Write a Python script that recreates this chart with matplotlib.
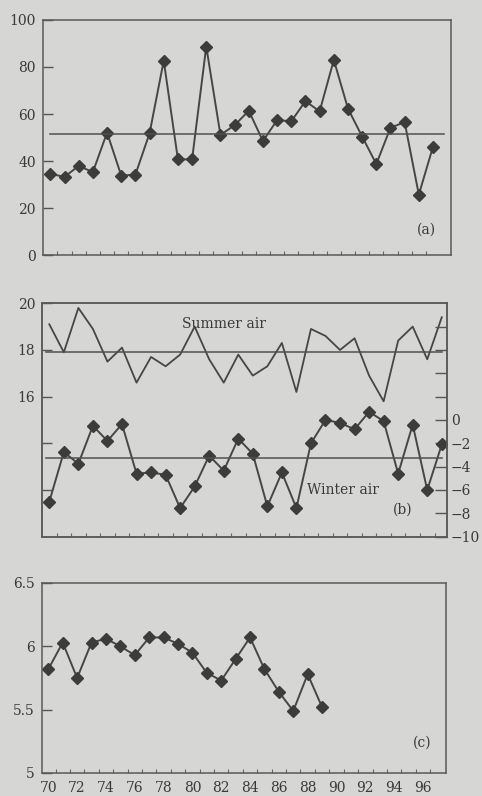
import numpy as np
import matplotlib
matplotlib.use("Agg")
import matplotlib.pyplot as plt
from matplotlib.ticker import FixedLocator

# years 1970-1997
years = np.arange(70, 98)

# panel (a)
series_a = [34.5, 33.3, 37.9, 35.3, 52.1, 33.8, 34.2, 51.8, 82.7, 40.7,
            40.7, 88.7, 51.1, 55.2, 61.4, 48.5, 57.4, 56.9, 65.5, 61.1,
            83.0, 62.3, 50.4, 38.7, 54.2, 56.5, 25.7, 46.1]

# panel (b): summer air (left axis), winter air (right axis)
summer_air = [19.1, 17.9, 19.8, 18.9, 17.5, 18.1, 16.6, 17.7, 17.3, 17.8,
              19.0, 17.6, 16.6, 17.8, 16.9, 17.3, 18.3, 16.2, 18.9, 18.6,
              18.0, 18.5, 16.9, 15.8, 18.4, 19.0, 17.6, 19.4]
winter_air = [-7.0, -2.75, -3.75, -0.5, -1.8, -0.35, -4.6, -4.5, -4.7, -7.55,
              -5.7, -3.05, -4.35, -1.6, -2.9, -7.4, -4.5, -7.55, -2.0, 0.0,
              -0.25, -0.8, 0.7, -0.1, -4.6, -0.4, -6.0, -2.1]

# panel (c): 1970-1989 only
years_c = np.arange(70, 90)
series_c = [5.82, 6.03, 5.75, 6.03, 6.06, 6.0, 5.93, 6.07, 6.07, 6.02,
            5.95, 5.79, 5.73, 5.90, 6.07, 5.82, 5.64, 5.49, 5.78, 5.52]

xlabels = [str(y) for y in range(70, 97, 2)]

BG = "#d6d6d4"
INK = "#464646"
TXT = "#3a3a3a"

plt.rcParams["font.family"] = ["DejaVu Serif"]
plt.rcParams["font.size"] = 10

fig = plt.figure(figsize=(4.82, 7.96), dpi=100, facecolor=BG)


def style_axes(ax, xlim):
    ax.set_facecolor(BG)
    for sp in ax.spines.values():
        sp.set_color("#5a5a5a")
        sp.set_linewidth(1.1)
    ax.set_xlim(*xlim)
    # small ticks between years at the bottom
    ax.xaxis.set_minor_locator(FixedLocator(np.arange(70.5, 97, 1.0)))
    ax.tick_params(axis="x", which="minor", direction="in", length=3,
                   width=0.8, color="#666666", top=False)
    ax.tick_params(axis="y", direction="in", length=7, width=1.0,
                   color="#555555", labelcolor=TXT, pad=5)


# ---- (a)
ax1 = fig.add_axes([0.0892, 0.6796, 0.8465, 0.2953])
style_axes(ax1, (69.48, 98.27))
ax1.plot(years, series_a, color=INK, lw=1.4, marker="D", ms=6,
         mfc="#3c3c3c", mec="#3c3c3c")
ax1.plot([years[0], years[-1] + 0.8], [np.mean(series_a)] * 2,
         color="#505050", lw=1.1)
ax1.set_ylim(0, 100)
ax1.set_yticks([0, 20, 40, 60, 80, 100])
ax1.set_xticks([])
ax1.text(0.94, 0.11, "(a)", transform=ax1.transAxes, color=TXT,
         ha="center", va="center")

# ---- (b)
ax2 = fig.add_axes([0.0878, 0.3258, 0.839, 0.2932])
style_axes(ax2, (69.52, 97.34))
ax2.plot(years, summer_air, color=INK, lw=1.3)
ax2.plot([years[0] - 0.2, years[-1]], [np.mean(summer_air)] * 2,
         color="#505050", lw=1.1)
ax2.set_ylim(10, 20)
ax2.yaxis.set_major_locator(FixedLocator([12, 14, 16, 18, 20]))
ax2.set_yticklabels(["", "", "16", "18", "20"])
ax2.set_xticks([])
ax2.text(0.45, 0.91, "Summer air", transform=ax2.transAxes, color=TXT,
         ha="center", va="center")

ax3 = ax2.twinx()
ax3.plot(years, winter_air, color=INK, lw=1.4, marker="D", ms=6,
         mfc="#3c3c3c", mec="#3c3c3c")
ax3.plot([years[0] - 0.2, years[-1]], [np.mean(winter_air)] * 2,
         color="#505050", lw=1.1)
ax3.set_ylim(-10, 10)
ax3.yaxis.set_major_locator(FixedLocator([-10, -8, -6, -4, -2, 0, 2, 4, 6, 8]))
ax3.set_yticklabels(["\u221210", "\u22128", "\u22126", "\u22124", "\u22122",
                     "0", "", "", "", ""])
ax3.tick_params(axis="y", direction="in", length=8.5, width=1.0,
                color="#555555", labelcolor=TXT, pad=3)
for sp in ax3.spines.values():
    sp.set_color("#5a5a5a")
    sp.set_linewidth(1.1)
ax3.text(0.655, 0.2, "Winter air", transform=ax3.transAxes, color=TXT,
         ha="left", va="center")
ax3.text(0.89, 0.115, "(b)", transform=ax3.transAxes, color=TXT,
         ha="center", va="center")

# ---- (c)
ax4 = fig.add_axes([0.0865, 0.0289, 0.8388, 0.2387])
style_axes(ax4, (69.54, 97.6))
ax4.plot(years_c, series_c, color=INK, lw=1.4, marker="D", ms=6,
         mfc="#3c3c3c", mec="#3c3c3c")
ax4.set_ylim(5, 6.5)
ax4.set_yticks([5, 5.5, 6, 6.5])
ax4.set_yticklabels(["5", "5.5", "6", "6.5"])
ax4.set_xticks(range(70, 97, 2))
ax4.set_xticklabels(xlabels)
ax4.tick_params(axis="x", which="major", length=0, pad=6, labelcolor=TXT)
ax4.text(0.94, 0.16, "(c)", transform=ax4.transAxes, color=TXT,
         ha="center", va="center")

fig.savefig("out.png", dpi=100, facecolor=BG)
